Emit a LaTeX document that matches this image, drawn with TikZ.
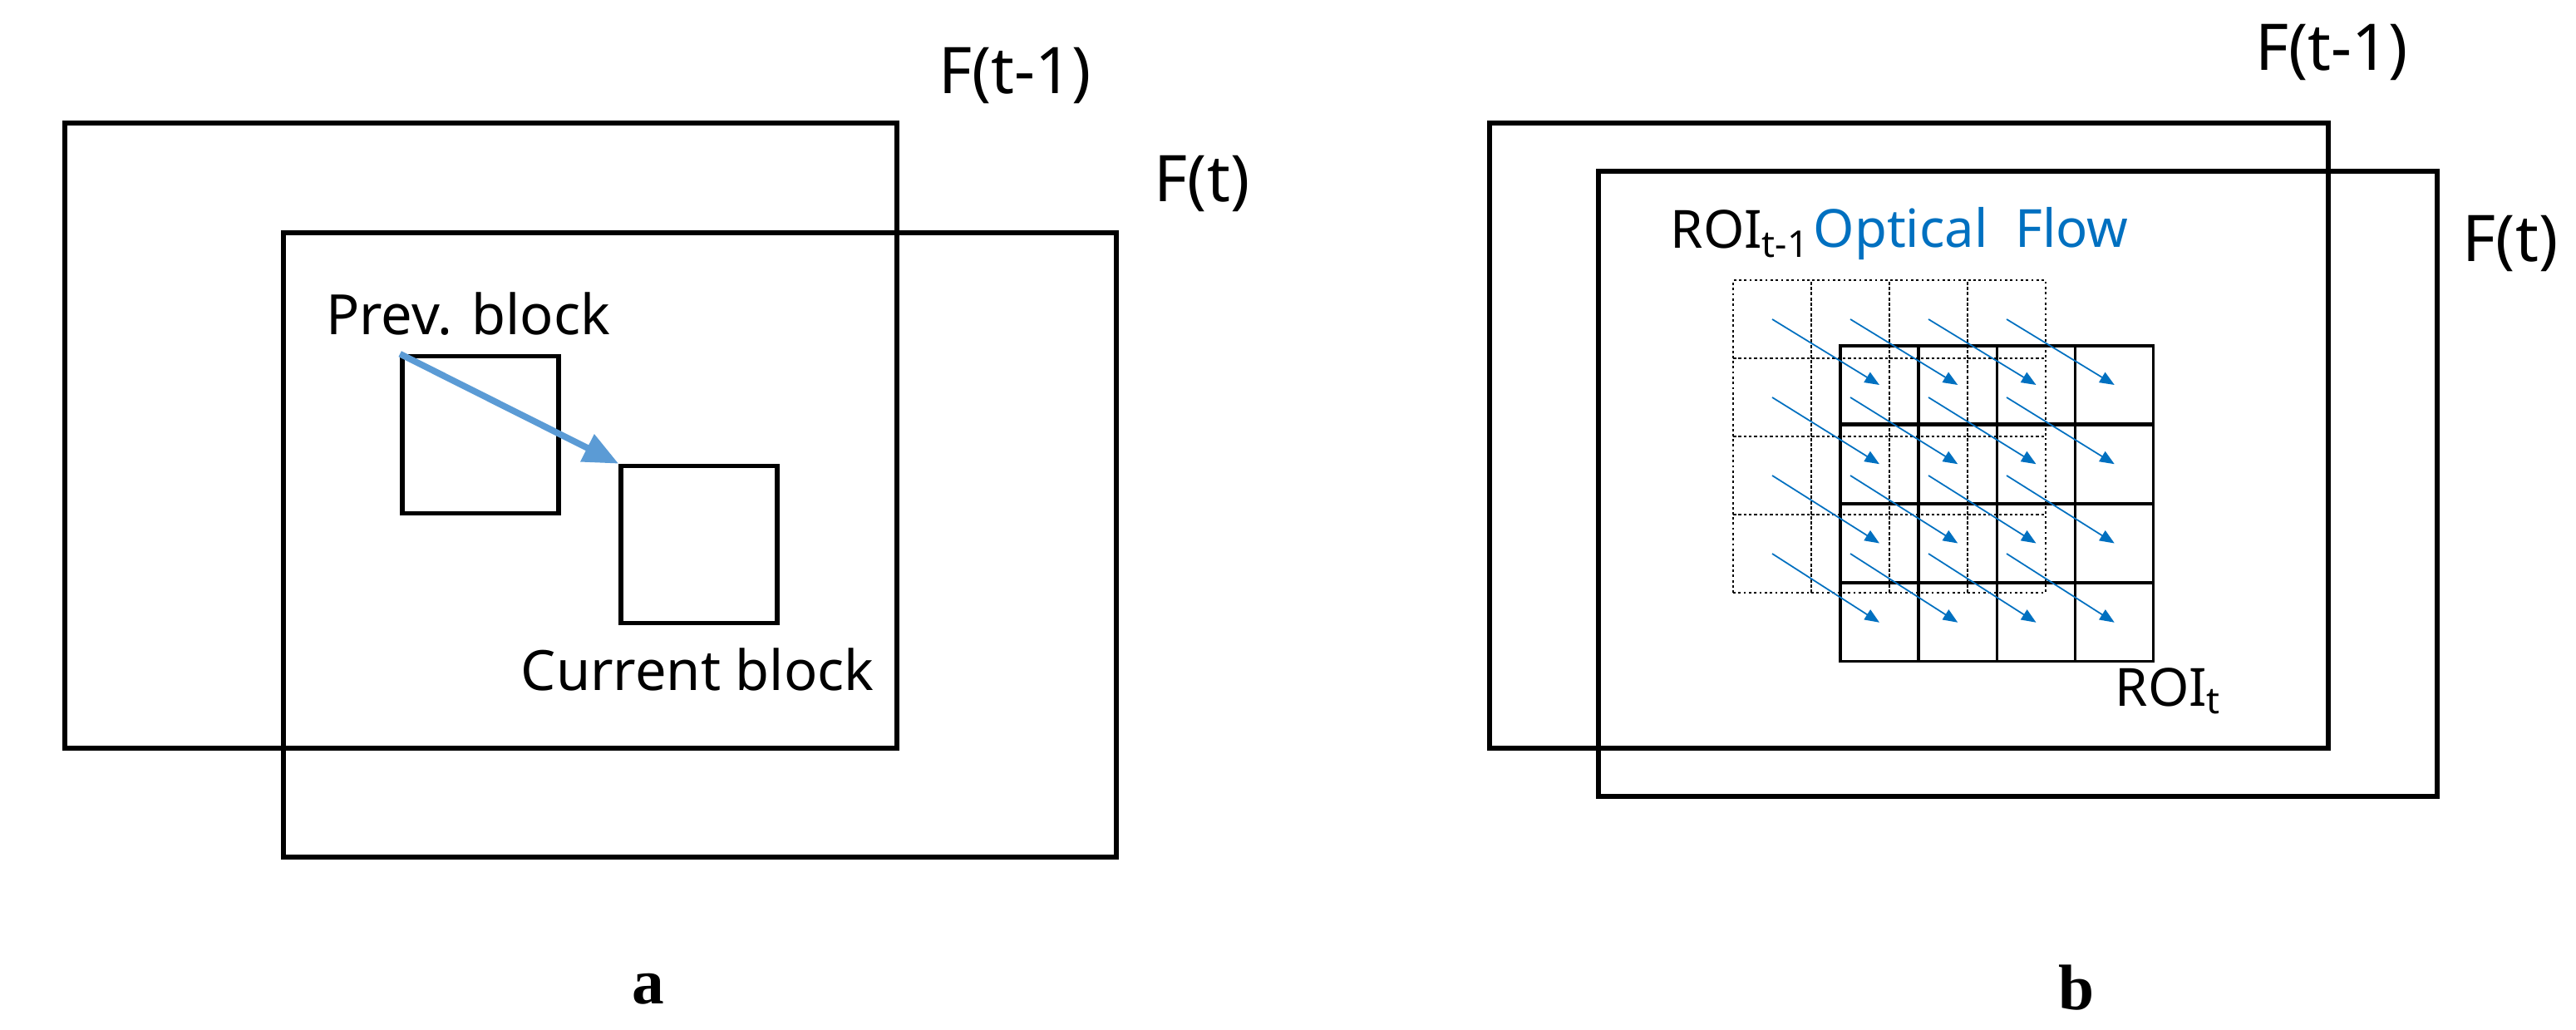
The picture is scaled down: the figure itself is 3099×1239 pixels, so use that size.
\documentclass[tikz,border=0pt]{standalone}
\usepackage{fontspec}
\setmainfont{Noto Sans}
\newfontfamily\capserif{Liberation Serif}
\usetikzlibrary{arrows.meta}
\definecolor{flow}{RGB}{0,112,192}
\definecolor{lblue}{RGB}{91,155,213}
\begin{document}
\begin{tikzpicture}[x=0.01cm,y=-0.01cm,
  frame/.style={draw=black,line width=1.8pt},
  blk/.style={draw=black,line width=1.6pt,minimum width=188*0.01cm,minimum height=189*0.01cm,inner sep=0pt},
  big/.style={font=\fontsize{22}{26}\selectfont},
  mid/.style={font=\fontsize{19}{23}\selectfont},
  sml/.style={font=\fontsize{18}{22}\selectfont},
  panlab/.style={font=\fontsize{22}{26}\selectfont\capserif\bfseries},
  fa/.style={-{Triangle[length=5pt,width=4pt]},draw=flow,line width=0.5pt}]
\useasboundingbox (0,0) rectangle (3099,1239);
% panel a
\draw[frame] (78,148) rectangle (1079,900);
\draw[frame] (341,280) rectangle (1343,1031);
\node[big] (fa1) at (1221,91) {F(t-1)};
\node[big] (fa2) at (1446,221) {F(t)};
\node[blk] (prev) at (578,523) {};
\node[blk] (cur) at (841,655) {};
\node[mid] (lp) at (563,378) {Prev. block};
\node[mid] (lc) at (839,805) {Current block};
\draw[lblue,line width=2.2pt,-{Triangle[length=12pt,width=10pt]}] (prev.north west) -- (cur.north west);
\node[panlab] (la) at (780,1190) {a};
% panel b
\draw[frame] (1792,148) rectangle (2801,900);
\draw[frame] (1923,206) rectangle (2932,958);
\node[big] (fb1) at (2805,63) {F(t-1)};
\node[big] (fb2) at (3020,293) {F(t)};
\foreach \i in {0,...,3}{\foreach \j in {0,...,3}{
  \node[draw,densely dotted,line width=0.8pt,minimum size=94*0.01cm,inner sep=0pt] (d\i\j) at ({2085+47+94*\i},{337+47+94*\j}) {};
}}
\foreach \i in {0,...,3}{\foreach \j in {0,...,3}{
  \node[draw,line width=0.9pt,minimum size=94*0.01cm,inner sep=0pt] (s\i\j) at ({2214+47+94.25*\i},{416+47+95.25*\j}) {};
}}
\foreach \i in {0,...,3}{\foreach \j in {0,...,3}{
  \draw[fa] (d\i\j.center) -- (s\i\j.center);
}}
\node[sml,anchor=west,inner sep=0pt] (roi1) at (2009,281) {ROI\textsubscript{t-1}};
\node[sml,text=flow] (of) at (2371,281) {Optical\ \ Flow};
\node[sml,anchor=west,inner sep=0pt] (roi2) at (2544,831) {ROI\textsubscript{t}};
\node[panlab] (lb) at (2498,1188) {b};
\end{tikzpicture}
\end{document}
